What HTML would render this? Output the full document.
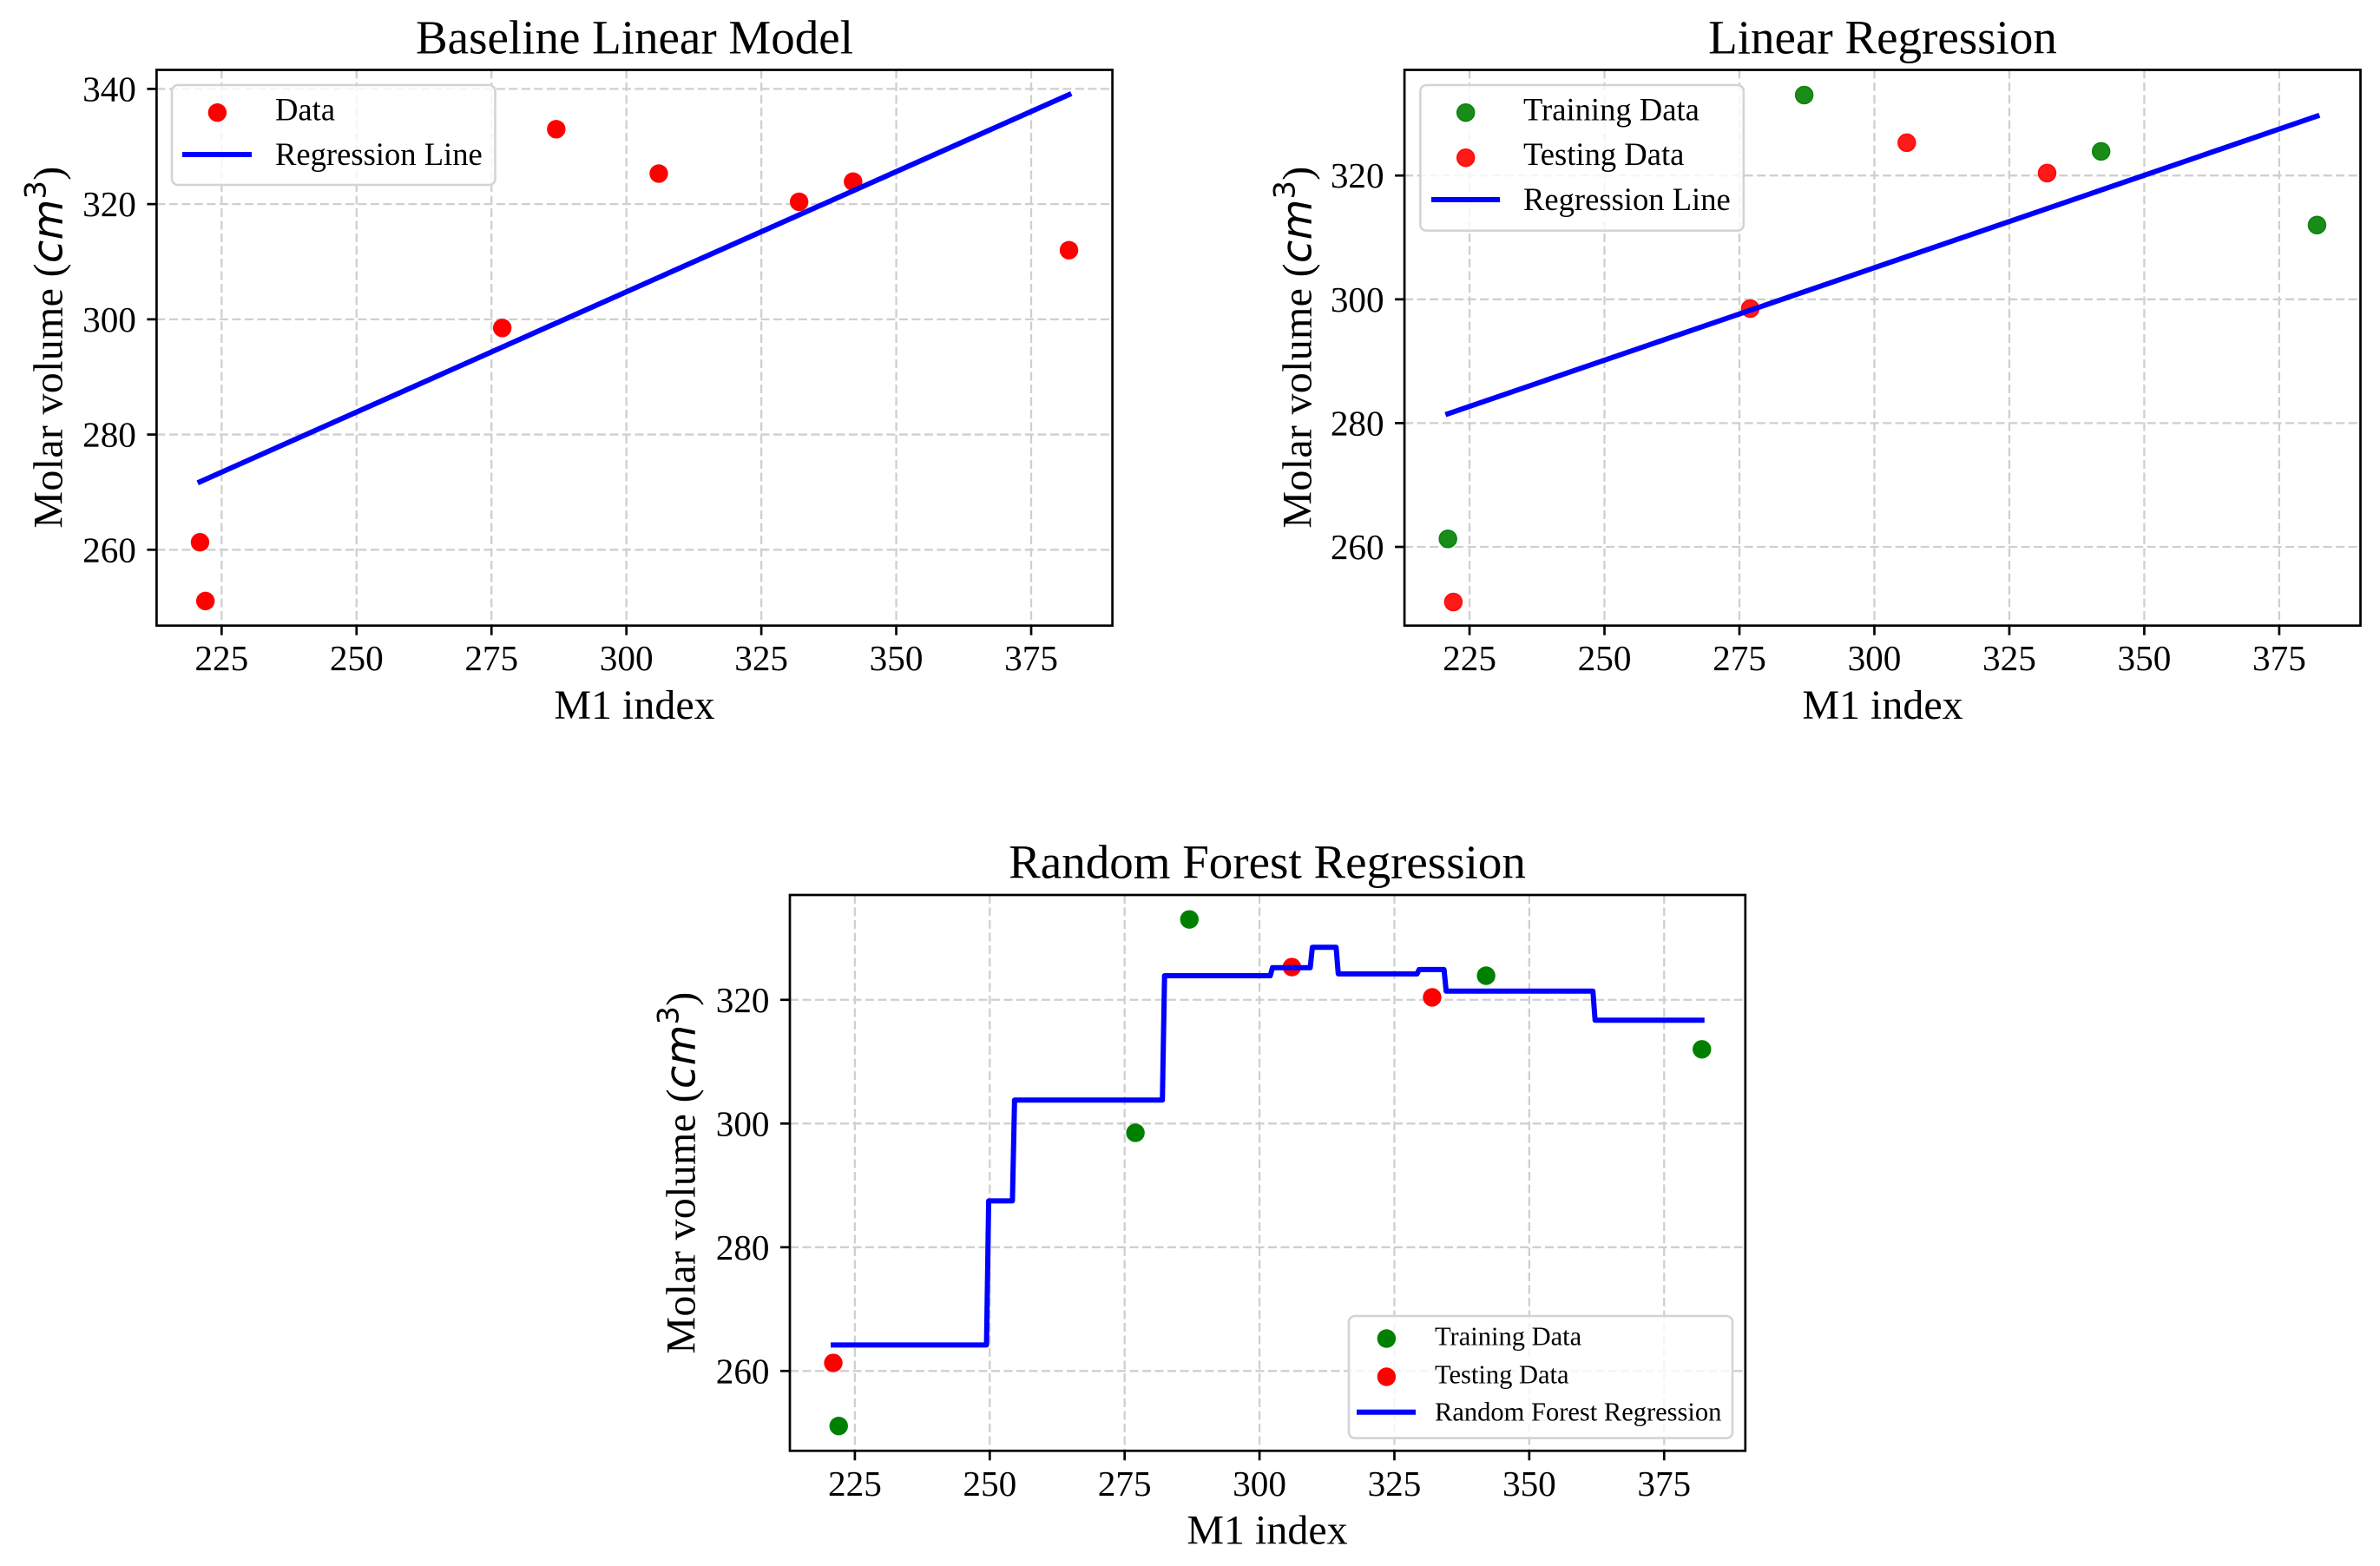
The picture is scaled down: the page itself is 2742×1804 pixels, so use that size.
<!DOCTYPE html>
<html>
<head>
<meta charset="utf-8">
<title>Molar volume regression charts</title>
<style>
html,body{margin:0;padding:0;background:#fff;}
svg{display:block;}
text{font-family:"Liberation Serif",serif;fill:#000;}
.title{font-size:55px;text-anchor:middle;}
.axl{font-size:48px;text-anchor:middle;}
.ylab{letter-spacing:.3px;}
.tick{font-size:41.2px;}
.leg{font-size:36.6px;}
.leg3{font-size:30.5px;}
.math{font-family:"DejaVu Sans",sans-serif;font-style:italic;font-size:48px;}
.sup{font-family:"DejaVu Sans",sans-serif;font-size:33.6px;}
.legbox{fill:#fff;fill-opacity:.8;stroke:#d4d4d4;stroke-width:2.6;}
</style>
</head>
<body>
<svg id="fig" width="2742" height="1804" viewBox="0 0 2742 1804" xmlns="http://www.w3.org/2000/svg">
<rect width="2742" height="1804" fill="#fff"/>

<g id="c1"></g>
<g id="c2"></g>
<g id="c3"></g>

<g>
<text class="title" x="731" y="61.7">Baseline Linear Model</text>
<text class="axl" x="731" y="828">M1 index</text>
<text class="axl ylab" transform="translate(71.4 400) rotate(-90)">Molar volume (<tspan class="math">cm</tspan><tspan class="sup" dy="-19">3</tspan><tspan dy="19">)</tspan></text>
</g>
<g>
<rect class="legbox" x="198" y="98" width="372.5" height="115" rx="7"/>
<circle cx="250.4" cy="129.7" r="10.7" fill="#f00"/>
<text class="leg" x="317" y="138.3">Data</text>
<line x1="210" x2="290" y1="178" y2="178" stroke="#00f" stroke-width="6"/>
<text class="leg" x="317" y="190">Regression Line</text>
</g>

<g>
<text class="title" x="2169" y="61.7">Linear Regression</text>
<text class="axl" x="2169" y="828">M1 index</text>
<text class="axl ylab" transform="translate(1510.5 400) rotate(-90)">Molar volume (<tspan class="math">cm</tspan><tspan class="sup" dy="-19">3</tspan><tspan dy="19">)</tspan></text>
</g>
<g>
<rect class="legbox" x="1636.4" y="98" width="372.4" height="167.7" rx="7"/>
<circle cx="1688.7" cy="129.7" r="10" fill="#008000" fill-opacity=".9" stroke="#008000" stroke-opacity=".9" stroke-width="1.5"/>
<text class="leg" x="1755" y="138.3">Training Data</text>
<circle cx="1688.7" cy="181.7" r="10" fill="#f00" fill-opacity=".9" stroke="#f00" stroke-opacity=".9" stroke-width="1.5"/>
<text class="leg" x="1755" y="190">Testing Data</text>
<line x1="1649" x2="1728" y1="230" y2="230" stroke="#00f" stroke-width="6"/>
<text class="leg" x="1755" y="242">Regression Line</text>
</g>

<g>
<text class="title" x="1460" y="1011.7">Random Forest Regression</text>
<text class="axl" x="1460" y="1778.3">M1 index</text>
<text class="axl ylab" transform="translate(800.3 1351) rotate(-90)">Molar volume (<tspan class="math">cm</tspan><tspan class="sup" dy="-19">3</tspan><tspan dy="19">)</tspan></text>
</g>
<g>
<rect class="legbox" x="1554" y="1516" width="442" height="140.7" rx="7"/>
<circle cx="1597.4" cy="1542" r="10.7" fill="#008000"/>
<text class="leg3" x="1653" y="1549.3">Training Data</text>
<circle cx="1597.4" cy="1586" r="10.7" fill="#f00"/>
<text class="leg3" x="1653" y="1593.3">Testing Data</text>
<line x1="1563" x2="1631" y1="1626.7" y2="1626.7" stroke="#00f" stroke-width="6"/>
<text class="leg3" x="1653" y="1636.7">Random Forest Regression</text>
</g>
</svg>

<script>
var xTickLabels = [225, 250, 275, 300, 325, 350, 375];
var yTicksBaseline = [260, 280, 300, 320, 340];
var yTicksOther = [260, 280, 300, 320];

var allX = [221, 222, 277, 287, 306, 332, 342, 382];
var allY = [261.3, 251.1, 298.5, 333, 325.3, 320.4, 323.9, 312];

var trainX2 = [221, 287, 342, 382];
var trainY2 = [261.3, 333, 323.9, 312];
var testX2 = [222, 277, 306, 332];
var testY2 = [251.1, 298.5, 325.3, 320.4];

var trainX3 = [222, 277, 287, 342, 382];
var trainY3 = [251.1, 298.5, 333, 323.9, 312];
var testX3 = [221, 306, 332];
var testY3 = [261.3, 325.3, 320.4];

var baselineLineX = [221, 382];
var baselineLineY = [271.8, 339];
var linearLineX = [221, 382];
var linearLineY = [281.5, 329.6];

var forestX = [221, 249.4, 249.8, 254.2, 254.6, 282, 282.4, 302, 302.4, 309.4, 309.8, 314.2, 314.6, 329.2, 329.6, 334.2, 334.6, 361.8, 362.2, 382];
var forestY = [264.2, 264.2, 287.5, 287.5, 303.8, 303.8, 323.9, 323.9, 325.2, 325.2, 328.5, 328.5, 324.2, 324.2, 324.9, 324.9, 321.4, 321.4, 316.7, 316.7];

var SVGNS = 'http://www.w3.org/2000/svg';
function make(parent, tag, attrs, txt) {
  var el = document.createElementNS(SVGNS, tag);
  for (var k in attrs) { el.setAttribute(k, attrs[k]); }
  if (txt !== undefined) { el.textContent = txt; }
  parent.appendChild(el);
  return el;
}
function axes(box) {
  return {
    x: function (v) { return box.left + (v - box.xMin) / (box.xMax - box.xMin) * (box.right - box.left); },
    y: function (v) { return box.bottom - (v - box.yMin) / (box.yMax - box.yMin) * (box.bottom - box.top); }
  };
}
function drawFrame(g, box, sc, yTicks) {
  xTickLabels.forEach(function (t) {
    var px = sc.x(t);
    var gl = make(g, 'line', {x1: px, x2: px, y1: box.top, y2: box.bottom, stroke: '#cfcfcf', 'stroke-width': 2.3, 'stroke-dasharray': '10 4.5'});
    
    
    var tk = make(g, 'line', {x1: px, x2: px, y1: box.bottom, y2: box.bottom + 11, stroke: '#000', 'stroke-width': 2.7});
    
    
    var lb = make(g, 'text', {x: px, y: box.bottom + 51.5, 'class': 'tick', 'text-anchor': 'middle'}, String(t));
    
    
  });
  yTicks.forEach(function (t) {
    var py = sc.y(t);
    var gl = make(g, 'line', {x1: box.left, x2: box.right, y1: py, y2: py, stroke: '#cfcfcf', 'stroke-width': 2.3, 'stroke-dasharray': '10 4.5'});
    
    
    var tk = make(g, 'line', {x1: box.left - 11, x2: box.left, y1: py, y2: py, stroke: '#000', 'stroke-width': 2.7});
    
    
    var lb = make(g, 'text', {x: box.left - 23.5, y: py + 14, 'class': 'tick', 'text-anchor': 'end'}, String(t));
    
    
  });
}
function drawSpines(g, box) {
  var fr = make(g, 'rect', {x: box.left, y: box.top, width: box.right - box.left, height: box.bottom - box.top, fill: 'none', stroke: '#000', 'stroke-width': 2.7});
  
  
}
function drawPoints(g, sc, xs, ys, color, faded, name) {
  xs.forEach(function (v, i) {
    var attrs = {cx: sc.x(v), cy: sc.y(ys[i]), r: faded ? 10 : 10.7, fill: color};
    if (faded) {
      attrs['fill-opacity'] = 0.9;
      attrs['stroke'] = color;
      attrs['stroke-opacity'] = 0.9;
      attrs['stroke-width'] = 1.5;
    }
    var c = make(g, 'circle', attrs);
    
    
  });
}
function drawLine(g, sc, xs, ys, name) {
  var pts = xs.map(function (v, i) { return sc.x(v).toFixed(2) + ',' + sc.y(ys[i]).toFixed(2); }).join(' ');
  var l = make(g, 'polyline', {points: pts, fill: 'none', stroke: '#00f', 'stroke-width': 6, 'stroke-linejoin': 'round', 'stroke-linecap': 'square'});
  
  
}

var box1 = {left: 180.4, right: 1281.6, top: 80.5, bottom: 720.7, xMin: 212.95, xMax: 390.05, yMin: 246.83, yMax: 343.3};
var box2 = {left: 1618.1, right: 2719.5, top: 80.5, bottom: 720.7, xMin: 212.95, xMax: 390.05, yMin: 247.28, yMax: 337.07};
var box3 = {left: 910, right: 2010.8, top: 1031, bottom: 1671.3, xMin: 212.95, xMax: 390.05, yMin: 247.09, yMax: 336.95};

var g1 = document.getElementById('c1');
var s1 = axes(box1);
drawFrame(g1, box1, s1, yTicksBaseline);
drawPoints(g1, s1, allX, allY, '#f00', false, 'data-point');
drawLine(g1, s1, baselineLineX, baselineLineY, 'regression-line');
drawSpines(g1, box1);

var g2 = document.getElementById('c2');
var s2 = axes(box2);
drawFrame(g2, box2, s2, yTicksOther);
drawPoints(g2, s2, trainX2, trainY2, '#008000', true, 'training-point');
drawPoints(g2, s2, testX2, testY2, '#f00', true, 'testing-point');
drawLine(g2, s2, linearLineX, linearLineY, 'regression-line');
drawSpines(g2, box2);

var g3 = document.getElementById('c3');
var s3 = axes(box3);
drawFrame(g3, box3, s3, yTicksOther);
drawPoints(g3, s3, trainX3, trainY3, '#008000', false, 'training-point');
drawPoints(g3, s3, testX3, testY3, '#f00', false, 'testing-point');
drawLine(g3, s3, forestX, forestY, 'random-forest-line');
drawSpines(g3, box3);
</script>
</body>
</html>
